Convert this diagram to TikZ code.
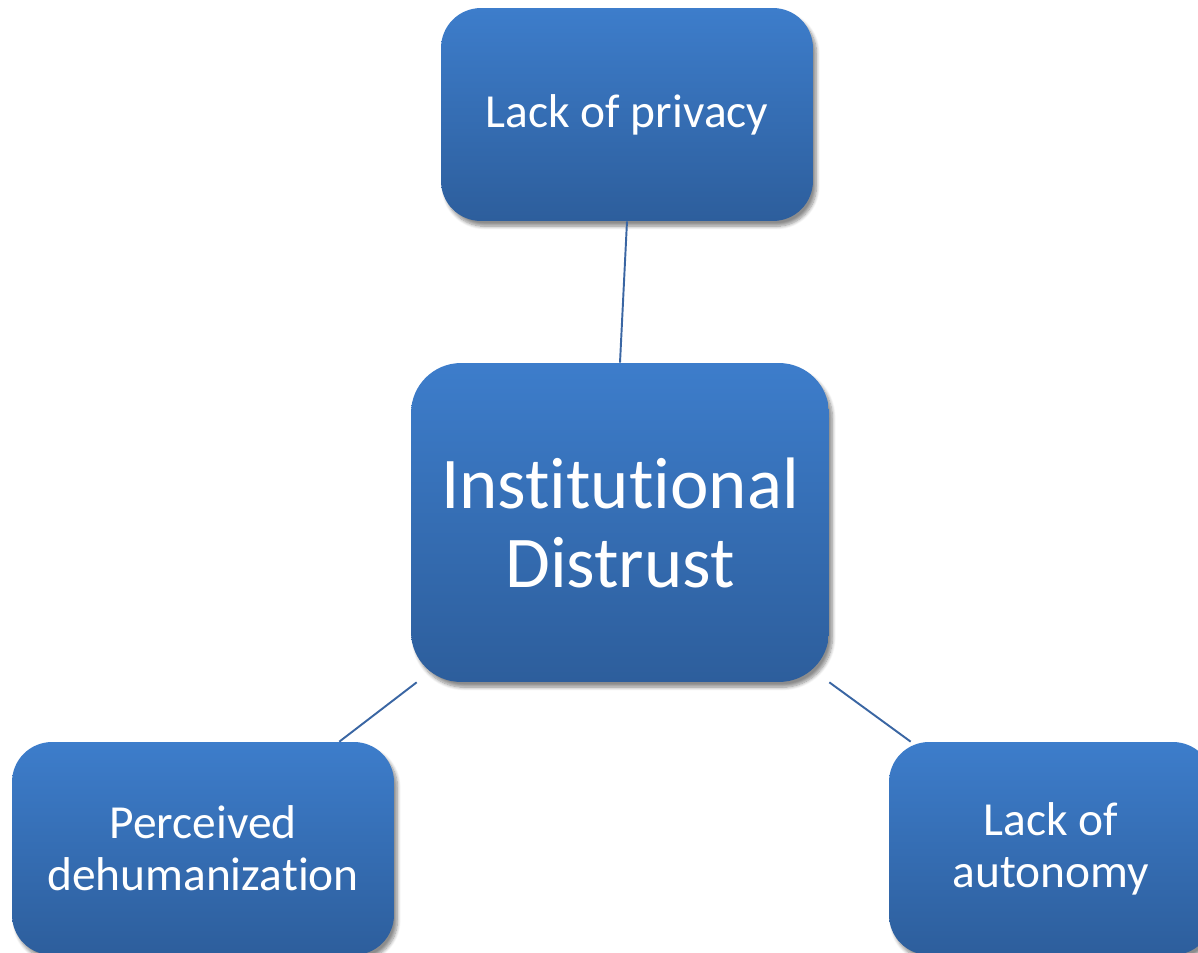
\documentclass[tikz,border=0pt]{standalone}
\usepackage{fontspec}
\setmainfont{Carlito}[Ligatures={NoCommon}]
\usepackage{xcolor}
\usepackage{tikz}
\usetikzlibrary{positioning, calc, shadows.blur}

\definecolor{boxtop}{HTML}{3D7DCB}
\definecolor{boxbot}{HTML}{2D5E9C}
\definecolor{linkblue}{HTML}{3A66A3}

\tikzset{
  factor/.style={rounded corners=0.8cm, top color=boxtop, bottom color=boxbot,
    draw=none, text=white, align=center, inner sep=0pt,
    blur shadow={shadow xshift=2pt, shadow yshift=-3pt, shadow blur steps=8,
      shadow opacity=45},
    font=\fontsize{27}{29.5}\selectfont},
  core/.style={factor, rounded corners=1cm, font=\fontsize{41.5}{45}\selectfont},
  link/.style={draw=linkblue, line width=1.1pt}
}

\begin{document}
\begin{tikzpicture}[x=0.02cm, y=-0.02cm]
  % canvas in pixel units, y runs downwards
  \useasboundingbox (0,0) rectangle (1198,953);
  \clip (0,0) rectangle (1198,953);
  % centre box and the three causes around it
  \node[core, minimum width=8.36cm, minimum height=6.38cm] (distrust) at (620,522.5)
    {Institutional\\Distrust};
  \node[factor, minimum width=7.44cm, minimum height=4.26cm] (privacy) at (627,114.5)
    {Lack of privacy};
  \node[factor, minimum width=7.64cm, minimum height=4.26cm] (dehuman) at (203,848.5)
    {Perceived\\dehumanization};
  \node[factor, minimum width=6.48cm, minimum height=4.26cm] (autonomy) at (1051,848.5)
    {Lack of\\autonomy};
  % connectors
  \draw[link] (privacy.south) -- (distrust.north);
  \draw[link] ($(distrust.south west)+(6,0)$) -- ($(dehuman.north east)+(-55,0)$);
  \draw[link] (distrust.south east) -- ($(autonomy.north west)+(22,0)$);
\end{tikzpicture}
\end{document}
